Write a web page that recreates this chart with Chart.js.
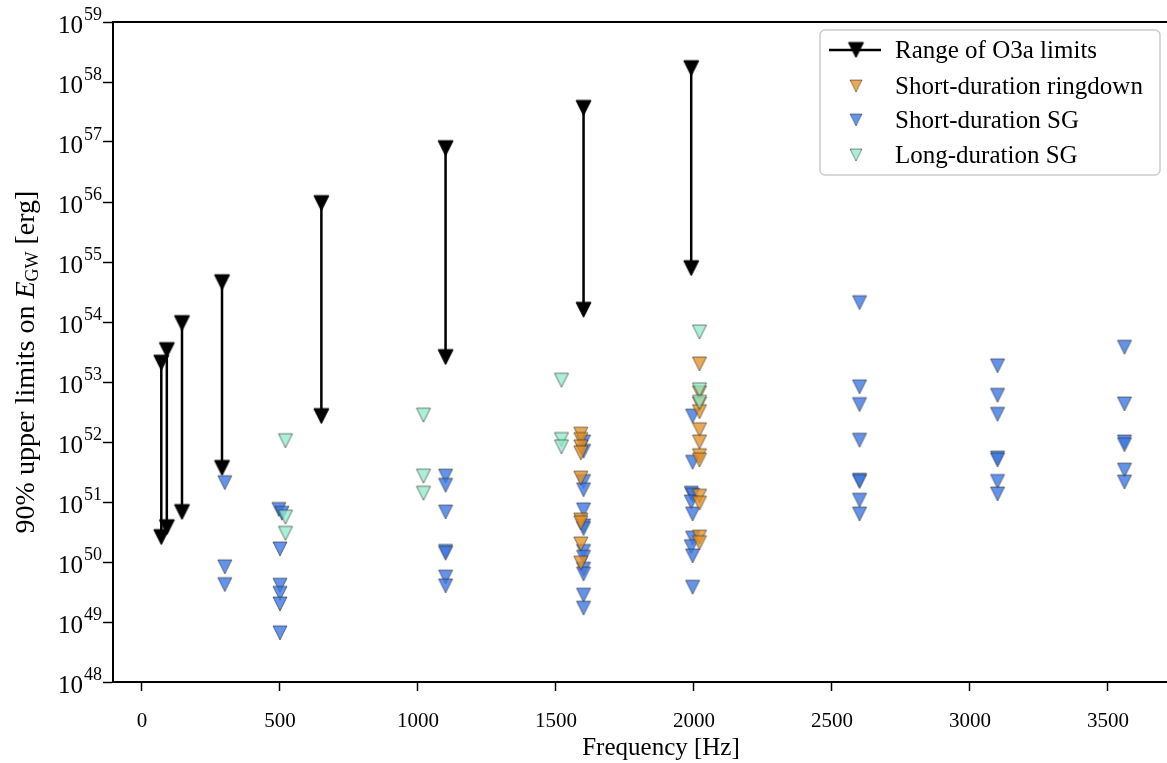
<!DOCTYPE html>
<html>
<head>
<meta charset="utf-8">
<script src="https://cdn.jsdelivr.net/npm/chart.js@4.4.1/dist/chart.umd.min.js"></script>
<style>
  html, body { margin: 0; padding: 0; background: #fff; overflow: hidden; }
  canvas { display: block; }
</style>
</head>
<body>
<canvas id="chart" width="1167" height="763"></canvas>
<script>
// axis ticks
const xTicks = [0, 500, 1000, 1500, 2000, 2500, 3000, 3500];
const yExponents = [48, 49, 50, 51, 52, 53, 54, 55, 56, 57, 58, 59];

// Range of O3a limits (arrows from top to bottom), erg
const arrowFreq = [70, 90, 145, 290, 650, 1100, 1600, 1990];
const arrowTop = [2.1e53, 3.4e53, 9.6e53, 4.6e54, 9.6e55, 7.9e56, 3.7e57, 1.7e58];
const arrowBottom = [2.6e50, 3.8e50, 6.8e50, 3.7e51, 2.7e52, 2.6e53, 1.6e54, 7.9e54];

// Short-duration ringdown
const ringdownFreq = [1590, 1590, 1590, 1590, 1590, 1590, 1590, 1590, 1590,
  2020, 2020, 2020, 2020, 2020, 2020, 2020, 2020, 2020, 2020, 2020, 2020];
const ringdownE = [1.35e52, 1.1e52, 8.3e51, 6.6e51, 2.5e51, 5.0e50, 4.5e50, 2.0e50, 9.6e49,
  2.0e53, 6.6e52, 4.3e52, 3.2e52, 1.6e52, 1.0e52, 5.9e51, 5.0e51, 1.25e51, 9.6e50, 2.6e50, 2.1e50];

// Short-duration SG
const shortSgFreq = [300, 300, 300,
  496, 507, 500, 500, 500, 500, 500,
  1100, 1100, 1100, 1100, 1100, 1100, 1100,
  1600, 1600, 1600, 1600, 1600, 1600, 1600, 1600, 1600, 1600, 1600, 1600, 1600,
  1995, 1995, 1990, 1995, 1990, 1995, 1995, 1990, 1995, 1995,
  2600, 2600, 2600, 2600, 2600, 2600, 2600, 2600,
  3100, 3100, 3100, 3100, 3100, 3100, 3100,
  3560, 3560, 3560, 3560, 3560, 3560];
const shortSgE = [2.1e51, 8.3e49, 4.2e49,
  7.5e50, 6.5e50, 1.65e50, 4.1e49, 3.0e49, 2.0e49, 6.6e48,
  2.7e51, 1.9e51, 6.8e50, 1.5e50, 1.4e50, 5.6e49, 4.0e49,
  1.0e52, 7.0e51, 2.2e51, 1.6e51, 7.4e50, 4.0e50, 3.6e50, 1.5e50, 1.2e50, 7.6e49, 6.3e49, 2.8e49, 1.7e49,
  2.7e52, 4.6e51, 1.4e51, 1.3e51, 1.0e51, 6.3e50, 2.5e50, 1.8e50, 1.26e50, 3.8e49,
  2.1e54, 8.3e52, 4.2e52, 1.07e52, 2.3e51, 2.2e51, 1.07e51, 6.3e50,
  1.86e53, 6.0e52, 2.9e52, 5.4e51, 5.0e51, 2.2e51, 1.36e51,
  3.8e53, 4.3e52, 1.0e52, 9.0e51, 3.4e51, 2.15e51];

// Long-duration SG
const longSgFreq = [520, 520, 520, 1020, 1020, 1020, 1520, 1520, 1520, 2020, 2020, 2020];
const longSgE = [1.05e52, 5.6e50, 3.0e50, 2.8e52, 2.7e51, 1.4e51, 1.07e53, 1.1e52, 8.3e51, 6.8e53, 7.4e52, 4.6e52];

const FONT = '"Liberation Serif", "DejaVu Serif", serif';

// matplotlib style 'v' marker (square bounding box, centred)
function triangle(fill, stroke, size, lw) {
  const pad = Math.ceil(lw) + 1;
  const c = document.createElement('canvas');
  c.width = c.height = size + 2 * pad;
  const ctx = c.getContext('2d');
  const h = size / 2, m = c.width / 2;
  ctx.beginPath();
  ctx.moveTo(m - h, m - h);
  ctx.lineTo(m + h, m - h);
  ctx.lineTo(m, m + h);
  ctx.closePath();
  ctx.fillStyle = fill;
  ctx.fill();
  ctx.lineWidth = lw;
  ctx.strokeStyle = stroke;
  ctx.stroke();
  return c;
}

const markBlack = triangle('#000', '#000', 15, 1);
const markOrange = triangle('rgba(230,145,35,0.78)', 'rgba(40,40,40,0.75)', 14, 0.8);
const markBlue = triangle('rgba(60,120,230,0.8)', 'rgba(40,40,40,0.75)', 14, 0.8);
const markGreen = triangle('rgba(140,235,200,0.75)', 'rgba(40,40,40,0.75)', 14, 0.8);

const zip = (xs, ys) => xs.map((x, i) => ({ x: x, y: ys[i] }));

const datasets = [];
arrowFreq.forEach((f, i) => {
  datasets.push({
    label: i === 0 ? 'Range of O3a limits' : '',
    data: [{ x: f, y: arrowTop[i] }, { x: f, y: arrowBottom[i] }],
    showLine: true,
    borderColor: '#000',
    borderWidth: 2.5,
    pointStyle: markBlack,
    pointRadius: 8,
    order: 0
  });
});
datasets.push({
  label: 'Long-duration SG',
  data: zip(longSgFreq, longSgE),
  pointStyle: markGreen, pointRadius: 7, order: 1
});
datasets.push({
  label: 'Short-duration ringdown',
  data: zip(ringdownFreq, ringdownE),
  pointStyle: markOrange, pointRadius: 7, order: 2
});
datasets.push({
  label: 'Short-duration SG',
  data: zip(shortSgFreq, shortSgE),
  pointStyle: markBlue, pointRadius: 7, order: 3
});

const legendItems = [
  { text: 'Range of O3a limits', mark: markBlack, line: true },
  { text: 'Short-duration ringdown', mark: markOrange },
  { text: 'Short-duration SG', mark: markBlue },
  { text: 'Long-duration SG', mark: markGreen }
];

// extras: top spine, y tick labels with exponents, axis titles, legend
const extras = {
  id: 'extras',
  afterDraw(chart) {
    const ctx = chart.ctx;
    const area = chart.chartArea;
    const yScale = chart.scales.y;
    ctx.save();

    // top spine
    ctx.strokeStyle = '#000';
    ctx.lineWidth = 2;
    ctx.beginPath();
    ctx.moveTo(area.left - 1, area.top);
    ctx.lineTo(1167, area.top);
    ctx.stroke();

    // y tick labels 10^n
    ctx.fillStyle = '#000';
    ctx.textBaseline = 'middle';
    yExponents.forEach(e => {
      const y = yScale.getPixelForValue(Math.pow(10, e));
      ctx.font = '18px ' + FONT;
      const sw = ctx.measureText(String(e)).width;
      ctx.textAlign = 'left';
      ctx.fillText(String(e), 102 - sw, y - 7);
      ctx.font = '25px ' + FONT;
      ctx.textAlign = 'right';
      ctx.fillText('10', 101 - sw, y + 4);
    });

    // x title
    ctx.font = '25px ' + FONT;
    ctx.textAlign = 'center';
    ctx.fillText('Frequency [Hz]', 661, 748);

    // y title with italic E and subscript GW
    ctx.translate(27, 362);
    ctx.rotate(-Math.PI / 2);
    const parts = [
      { t: '90% upper limits on ', f: '28px ' + FONT, dy: 0 },
      { t: 'E', f: 'italic 28px ' + FONT, dy: 0 },
      { t: 'GW', f: '18px ' + FONT, dy: 6 },
      { t: ' [erg]', f: '28px ' + FONT, dy: 0 }
    ];
    let total = 0;
    parts.forEach(p => { ctx.font = p.f; p.w = ctx.measureText(p.t).width; total += p.w; });
    let px = -total / 2;
    ctx.textAlign = 'left';
    parts.forEach(p => { ctx.font = p.f; ctx.fillText(p.t, px, p.dy); px += p.w; });
    ctx.restore();

    // legend
    ctx.save();
    const lx = 820, ly = 30, lw = 340, lh = 145;
    ctx.beginPath();
    ctx.roundRect(lx, ly, lw, lh, 5);
    ctx.fillStyle = 'rgba(255,255,255,0.8)';
    ctx.fill();
    ctx.strokeStyle = '#cccccc';
    ctx.lineWidth = 1.5;
    ctx.stroke();
    const rows = [50, 86, 120, 155];
    ctx.font = '25px ' + FONT;
    ctx.fillStyle = '#000';
    ctx.textBaseline = 'middle';
    ctx.textAlign = 'left';
    legendItems.forEach((it, i) => {
      const y = rows[i];
      if (it.line) {
        ctx.strokeStyle = '#000';
        ctx.lineWidth = 2.5;
        ctx.beginPath();
        ctx.moveTo(829, y);
        ctx.lineTo(881, y);
        ctx.stroke();
      }
      const m = it.mark;
      const s = it.line ? 1 : 0.85;
      ctx.drawImage(m, 856 - m.width * s / 2, y - m.height * s / 2, m.width * s, m.height * s);
      ctx.fillText(it.text, 895, y + 1);
    });
    ctx.restore();
  }
};

new Chart(document.getElementById('chart'), {
  type: 'scatter',
  data: { datasets: datasets },
  options: {
    responsive: false,
    devicePixelRatio: 1,
    animation: false,
    layout: { autoPadding: false, padding: { top: 22, left: 0, right: 0, bottom: 0 } },
    plugins: { legend: { display: false }, tooltip: { enabled: false } },
    scales: {
      x: {
        type: 'linear',
        min: -105,
        max: 3714,
        afterBuildTicks: s => { s.ticks = xTicks.map(v => ({ value: v })); },
        afterFit: s => { s.height = 81; },
        ticks: { color: '#000', padding: 18, font: { family: FONT, size: 21 }, callback: v => String(v) },
        grid: { drawOnChartArea: false, drawTicks: true, tickLength: 9, tickColor: '#000', tickWidth: 1.5 },
        border: { display: true, color: '#000', width: 2 }
      },
      y: {
        type: 'logarithmic',
        min: 1e48,
        max: 1e59,
        afterBuildTicks: s => { s.ticks = yExponents.map(e => ({ value: Math.pow(10, e) })); },
        afterFit: s => { s.width = 113; },
        ticks: { display: false },
        grid: { drawOnChartArea: false, drawTicks: true, tickLength: 10, tickColor: '#000', tickWidth: 1.5 },
        border: { display: true, color: '#000', width: 2 }
      }
    }
  },
  plugins: [extras]
});
</script>
</body>
</html>
